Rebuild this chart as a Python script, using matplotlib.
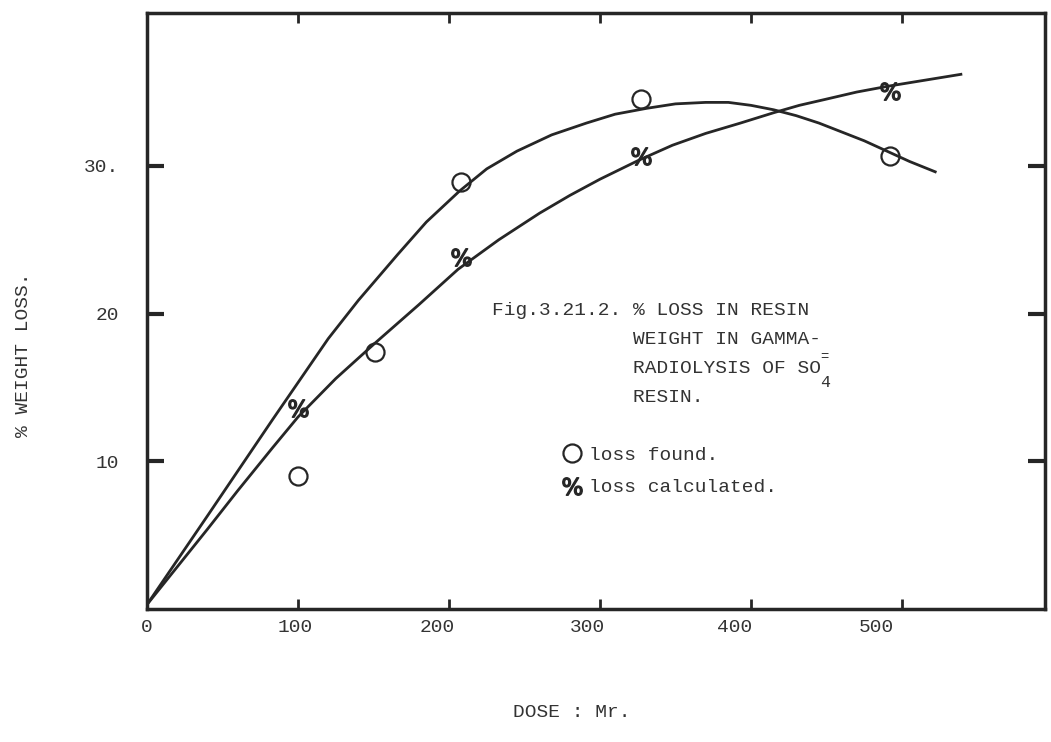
import numpy as np
import matplotlib
matplotlib.use('Agg')
import matplotlib.pyplot as plt

# Tipo de letra de máquina de escrever
plt.rcParams['font.family'] = ['Liberation Mono', 'DejaVu Sans Mono']
plt.rcParams['font.size'] = 14

# Pontos medidos (dose em Mr, % perda de peso)
dose_found = [100, 151, 208, 327, 492]
loss_found = [9.0, 17.4, 28.9, 34.5, 30.7]
dose_calc = [100, 208, 327, 492]
loss_calc = [13.6, 23.8, 30.7, 35.1]

# Curvas tracadas a mao
curve_found_x = [0, 40, 83, 120, 140, 166, 185, 207, 225, 245, 268, 291, 310,
                 331, 350, 370, 385, 400, 415, 430, 445, 460, 475, 490, 505, 522]
curve_found_y = [0.3, 6.3, 12.8, 18.3, 20.9, 24.0, 26.2, 28.3, 29.8, 31.0, 32.1,
                 32.9, 33.5, 33.9, 34.2, 34.3, 34.3, 34.1, 33.8, 33.4, 32.9,
                 32.3, 31.7, 31.0, 30.3, 29.6]
curve_calc_x = [0, 40, 60, 83, 100, 125, 151, 180, 206, 233, 260, 280, 300, 326,
                348, 370, 393, 415, 432, 449, 470, 491, 515, 539]
curve_calc_y = [0.3, 5.4, 8.0, 10.9, 13.0, 15.6, 18.0, 20.6, 23.0, 25.0, 26.8,
                28.0, 29.1, 30.4, 31.4, 32.2, 32.9, 33.6, 34.1, 34.5, 35.0,
                35.4, 35.8, 36.2]

x_ticks = [100, 200, 300, 400, 500]
# rotulos datilografados, um pouco deslocados das marcas
x_label_pos = [0, 98, 192, 292, 389, 483]
x_labels = ['0', '100', '200', '300', '400', '500']
y_ticks = [10, 20, 30]
y_labels = ['10', '20', '30.']

ink = '#262626'
texto = '#333333'

L, R, B, T = 147, 1045, 609, 13
sx = 1.51    # px por Mr
sy = 14.77   # px por %

fig = plt.figure(figsize=(10.51, 7.42), dpi=100)
ax = fig.add_axes([L / 1051, (742 - B) / 742, (R - L) / 1051, (B - T) / 742])
ax.set_xlim(0, (R - L) / sx)
ax.set_ylim(0, (B - T) / sy)

ax.plot(curve_found_x, curve_found_y, color=ink, lw=2)
ax.plot(curve_calc_x, curve_calc_y, color=ink, lw=2)
ax.plot(dose_found, loss_found, linestyle='none', marker='o', ms=13,
        mfc='none', mec=ink, mew=1.6, label='loss found.')
ax.plot(dose_calc, loss_calc, linestyle='none', marker=r'$\%$', ms=14,
        color=ink, label='loss calculated.')

for s in ax.spines.values():
    s.set_color(ink)
    s.set_linewidth(2.5)

ax.set_xticks(x_ticks)
ax.set_xticklabels([])
ax.set_yticks(y_ticks)
ax.set_yticklabels(y_labels)
ax.tick_params(axis='both', direction='in', color=ink, labelcolor=texto,
               top=True, right=True)
ax.tick_params(axis='y', length=12, width=3, pad=20)
ax.tick_params(axis='x', length=7, width=2)

for xp, lab in zip(x_label_pos, x_labels):
    ax.text(xp, -10 / sy, lab, ha='center', va='top', color=texto, clip_on=False)

ax.set_xlabel('DOSE : Mr.', color=texto)
ax.xaxis.set_label_coords(0.473, -0.16)
ax.set_ylabel('% WEIGHT LOSS.', color=texto)
ax.yaxis.set_label_coords(-0.128, 0.426)

# Titulo dentro do grafico
linhas = ['Fig.3.21.2. % LOSS IN RESIN',
          '            WEIGHT IN GAMMA-',
          '            RADIOLYSIS OF SO',
          '            RESIN.']
x0 = (492 - L) / sx
y0 = 20.2
char = 11.6 / sx
for i, t in enumerate(linhas):
    ax.text(x0, y0 - 1.95 * i, t, ha='left', va='center', color=texto)
x_so = x0 + 28.3 * char
ax.text(x_so, y0 - 1.95 * 2 + 0.75, '=', ha='left', va='center',
        fontsize=10, color=texto)
ax.text(x_so, y0 - 1.95 * 2 - 0.95, '4', ha='left', va='center',
        fontsize=12, color=texto)

ax.legend(loc='upper left', bbox_to_anchor=(0.445, 0.302), frameon=False,
          handlelength=0.8, handletextpad=0.5, labelspacing=0.75,
          labelcolor=texto)

fig.savefig('out.png', dpi=100)
